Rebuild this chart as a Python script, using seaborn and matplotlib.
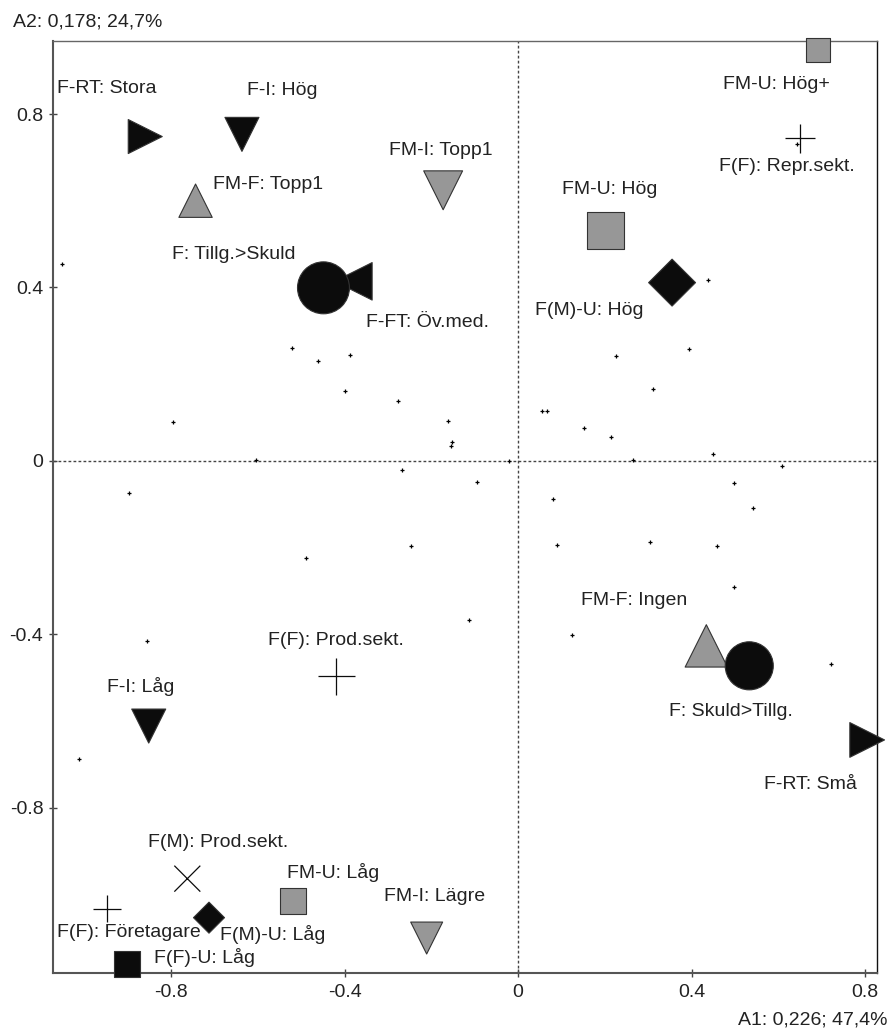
import pandas as pd
import matplotlib.pyplot as plt
import seaborn as sb

# category points (A1, A2)
labels = ["F-RT: Stora", "F-I: Hög", "FM-F: Topp1", "F-FT: Öv.med.", "FM-I: Topp1",
          "FM-U: Hög+", "F(F): Repr.sekt.", "FM-U: Hög", "F(M)-U: Hög", "FM-F: Ingen",
          "F-RT: Små", "F(F): Prod.sekt.", "F-I: Låg", "F(M): Prod.sekt.", "FM-U: Låg",
          "FM-I: Lägre", "F(F): Företagare", "F(M)-U: Låg", "F(F)-U: Låg",
          "F: Tillg.>Skuld", "F: Skuld>Tillg."]
a1 = [-0.860, -0.637, -0.744, -0.380, -0.173,
      0.692, 0.650, 0.201, 0.355, 0.434,
      0.805, -0.420, -0.852, -0.763, -0.519,
      -0.211, -0.949, -0.713, -0.902,
      -0.449, 0.533]
a2 = [0.748, 0.753, 0.600, 0.414, 0.624,
      0.947, 0.744, 0.532, 0.411, -0.427,
      -0.644, -0.497, -0.612, -0.964, -1.015,
      -1.101, -1.033, -1.054, -1.161,
      0.399, -0.473]

# individual points
dots_a1 = [-1.051, -0.521, -0.462, -0.387, -0.400, -0.277, -0.162, -0.152, -0.154, -0.796,
           -0.604, -0.898, -0.267, -0.490, -0.246, -0.856, 0.226, 0.393, 0.311, 0.056,
           0.067, 0.152, 0.213, -0.021, 0.265, 0.449, 0.608, -0.095, 0.497, 0.080,
           0.541, 0.089, 0.305, 0.459, 0.497, -0.113, 0.124, 0.721, 0.439, 0.644, -1.012]
dots_a2 = [0.453, 0.261, 0.230, 0.243, 0.161, 0.138, 0.092, 0.043, 0.033, 0.089,
           0.002, -0.074, -0.021, -0.224, -0.197, -0.416, 0.241, 0.258, 0.166, 0.115,
           0.115, 0.076, 0.056, 0.000, 0.002, 0.015, -0.013, -0.049, -0.051, -0.088,
           -0.108, -0.195, -0.188, -0.197, -0.292, -0.367, -0.402, -0.469, 0.417, 0.730, -0.687]

BLACK = "#0c0c0c"
GRAY = "#979797"
TXT = "#222222"

# marker, colour, size (pt), label offset (px)
style = {
    "F-RT: Stora": (">", BLACK, 24.5, (-88, 48)),
    "F-I: Hög": ("v", BLACK, 24.5, (5, 44)),
    "FM-F: Topp1": ("^", GRAY, 24, (17, 16)),
    "F-FT: Öv.med.": ("<", BLACK, 27, (13, -41)),
    "FM-I: Topp1": ("v", GRAY, 28, (-54, 40)),
    "FM-U: Hög+": ("s", GRAY, 17.3, (-95, -34)),
    "F(F): Repr.sekt.": ("+", BLACK, 21, (-81, -28)),
    "FM-U: Hög": ("s", GRAY, 26.6, (-43, 41)),
    "F(M)-U: Hög": ("D", BLACK, 23.9, (-137, -28)),
    "FM-F: Ingen": ("^", GRAY, 30.5, (-125, 45)),
    "F-RT: Små": (">", BLACK, 25, (-103, -45)),
    "F(F): Prod.sekt.": ("+", BLACK, 26.6, (-68, 36)),
    "F-I: Låg": ("v", BLACK, 24.5, (-42, 40)),
    "F(M): Prod.sekt.": ("x", BLACK, 18.7, (-39, 36)),
    "FM-U: Låg": ("s", GRAY, 18.7, (-6, 28)),
    "FM-I: Lägre": ("v", GRAY, 23, (-43, 42)),
    "F(F): Företagare": ("+", BLACK, 20, (-50, -24)),
    "F(M)-U: Låg": ("D", BLACK, 15.8, (11, -17)),
    "F(F)-U: Låg": ("s", BLACK, 18.7, (27, 7)),
    "F: Tillg.>Skuld": ("o", BLACK, 37.4, (-151, 33)),
    "F: Skuld>Tillg.": ("o", BLACK, 34.6, (-80, -46)),
}

sb.set_style("white")
plt.rcParams["font.family"] = ["Liberation Sans", "DejaVu Sans"]

df = pd.DataFrame({"a1": a1, "a2": a2, "label": labels})
df["shape"] = [style[l][0] for l in labels]
line_art = df["shape"].isin(["+", "x"])

fig = plt.figure(figsize=(8.89, 10.29), dpi=100)
ax = fig.add_axes([0.060, 0.0547, 0.9262, 0.9057])

ax.axhline(0, color="#444444", lw=1, ls=(0, (2, 1.6)), zorder=1)
ax.axvline(0, color="#444444", lw=1, ls=(0, (2, 1.6)), zorder=1)

sb.scatterplot(x=dots_a1, y=dots_a2, marker="+", s=9, color="black", linewidth=0.9,
               legend=False, ax=ax, zorder=2)

filled = df[~line_art]
sb.scatterplot(data=filled, x="a1", y="a2", hue="label", style="label", size="label",
               palette={l: style[l][1] for l in filled["label"]},
               markers={l: style[l][0] for l in filled["label"]},
               sizes={l: style[l][2] ** 2 for l in filled["label"]},
               edgecolor="#333333", linewidth=0.8, legend=False, ax=ax, zorder=3)
ax.collections[-1].set_clip_on(False)

lines = df[line_art]
sb.scatterplot(data=lines, x="a1", y="a2", style="label", size="label", color=BLACK,
               markers={l: style[l][0] for l in lines["label"]},
               sizes={l: style[l][2] ** 2 for l in lines["label"]},
               linewidth=0.9, legend=False, ax=ax, zorder=3)

k = 72 / fig.dpi
for l, x, y in zip(labels, a1, a2):
    dx, dy = style[l][3]
    ax.annotate(l, (x, y), xytext=(dx * k, dy * k), textcoords="offset points",
                ha="left", va="center", fontsize=14, color=TXT, zorder=4)

ax.set_xlim(-1.072, 0.827)
ax.set_ylim(-1.181, 0.969)
ax.set_xticks([-0.8, -0.4, 0, 0.4, 0.8])
ax.set_xticklabels(["-0.8", "-0.4", "0", "0.4", "0.8"])
ax.set_yticks([-0.8, -0.4, 0, 0.4, 0.8])
ax.set_yticklabels(["-0.8", "-0.4", "0", "0.4", "0.8"])
ax.tick_params(direction="inout", length=6, width=1, color="#444444",
               labelsize=14, labelcolor=TXT, left=True, bottom=True)
ax.tick_params(axis="y", pad=4.2)
ax.tick_params(axis="x", pad=5)
ax.set_xlabel("")
ax.set_ylabel("")

for side in ["left", "bottom"]:
    ax.spines[side].set_color("#555555")
    ax.spines[side].set_linewidth(1.5)
ax.spines["top"].set_color("#666666")
ax.spines["top"].set_linewidth(1)
ax.spines["right"].set_color("#111111")
ax.spines["right"].set_linewidth(1)

fig.text(13 / 889, 1 - 22 / 1029, "A2: 0,178; 24,7%", ha="left", va="center",
         fontsize=14, color=TXT)
fig.text(887 / 889, 1 - 1020 / 1029, "A1: 0,226; 47,4%", ha="right", va="center",
         fontsize=14, color=TXT)

plt.savefig("out.png", dpi=100)
